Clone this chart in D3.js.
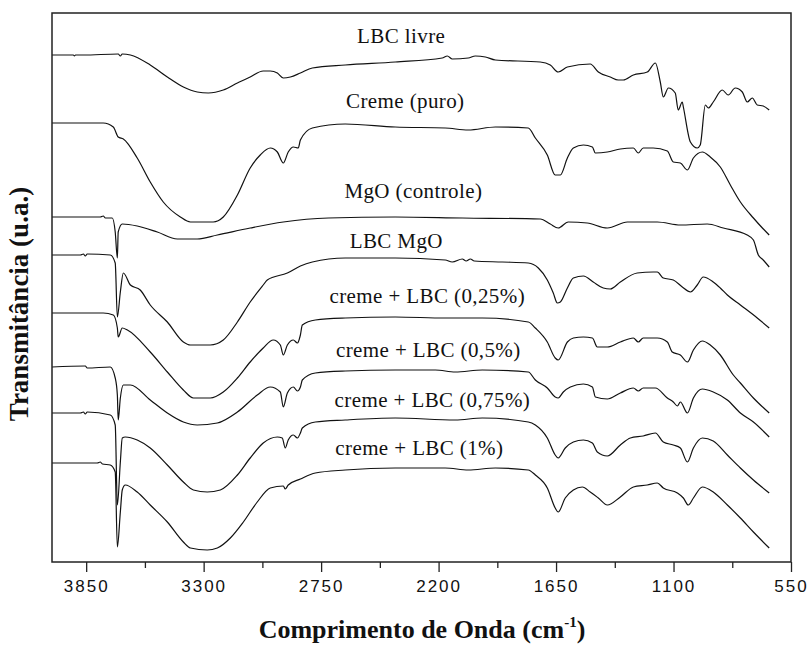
<!DOCTYPE html>
<html>
<head>
<meta charset="utf-8">
<script src="https://cdn.jsdelivr.net/npm/d3@7"></script>
<style>
  html, body { margin: 0; padding: 0; background: #fff; }
  svg { display: block; }
</style>
</head>
<body>
<svg id="chart" width="809" height="645"></svg>
<script>
// FTIR spectra, stacked with vertical offsets. Each series: [wavenumber (cm-1), transmittance (u.a.)]
const lbcLivre = [
  [4010,507],[3910,507],[3905,506],[3900,507],[3863,507],[3700,508],[3690,506],[3681,508],[3643,507],
  [3550,497],[3470,485],[3395,475],[3330,470],[3278,469],[3208,472],[3142,479],[3082,485],[3021,491],
  [2988,491],[2955,489],[2927,484],[2894,485],[2847,489],[2791,494],[2637,497],[2403,500],[2183,504],
  [2159,506],[2136,503],[2061,504],[2028,506],[1981,505],[1934,502],[1724,500],[1677,497],[1640,490],
  [1597,495],[1490,498],[1452,490],[1396,485],[1359,482],[1335,482],[1288,487],[1223,490],[1185,499],
  [1162,480],[1148,465],[1124,474],[1092,469],[1078,452],[1059,460],[1054,455],[1021,420],[989,414],
  [975,417],[951,457],[937,454],[914,460],[872,472],[844,467],[811,474],[778,470],[755,460],[731,464],
  [708,457],[680,456],[652,452]
];
const cremePuro = [
  [4010,439],[3770,439],[3723,435],[3700,425],[3676,423],[3611,404],[3550,380],[3489,360],[3409,345],
  [3362,340],[3255,340],[3208,345],[3142,367],[3082,394],[3035,407],[2988,414],[2955,410],[2927,399],
  [2904,410],[2880,415],[2857,414],[2847,422],[2791,434],[2637,438],[2403,435],[2169,434],[2061,432],
  [1934,435],[1780,434],[1747,424],[1691,407],[1654,387],[1630,387],[1597,404],[1569,414],[1522,417],
  [1480,415],[1466,409],[1410,410],[1349,413],[1288,414],[1265,409],[1242,414],[1195,414],[1129,411],
  [1101,400],[1068,399],[1035,392],[1007,404],[965,410],[928,405],[881,395],[834,377],[787,360],
  [726,344],[684,334],[652,327]
];
const mgoControle = [
  [4010,345],[3784,345],[3770,346],[3760,344],[3728,344],[3714,330],[3704,304],[3700,330],[3681,338],
  [3611,336],[3517,330],[3423,323],[3330,323],[3236,327],[3082,334],[2927,340],[2716,344],[2403,345],
  [2089,344],[1724,343],[1677,338],[1640,334],[1593,340],[1504,339],[1410,334],[1316,340],[1176,340],
  [1068,337],[942,338],[867,334],[755,327],[726,322],[703,307],[680,302],[652,295]
];
const lbcMgo = [
  [4010,307],[3877,307],[3863,308],[3854,306],[3845,308],[3737,307],[3714,299],[3704,245],[3690,270],
  [3676,289],[3643,277],[3597,272],[3550,257],[3470,240],[3395,220],[3362,217],[3269,217],[3208,222],
  [3142,240],[3082,260],[3021,277],[3002,282],[2908,289],[2847,296],[2791,300],[2637,304],[2403,304],
  [2169,302],[2136,300],[2089,303],[2071,301],[2051,303],[2033,301],[1902,300],[1780,299],[1733,294],
  [1691,282],[1663,269],[1644,259],[1630,260],[1597,274],[1569,284],[1522,286],[1476,280],[1429,274],
  [1396,273],[1349,280],[1270,289],[1195,290],[1176,290],[1148,284],[1101,282],[1059,275],[1021,270],
  [989,277],[961,285],[914,280],[881,274],[848,267],[787,257],[708,244],[652,234]
];
const creme025 = [
  [4010,249],[3770,249],[3723,247],[3704,234],[3700,225],[3681,234],[3657,232],[3550,210],[3470,190],
  [3395,172],[3348,164],[3269,164],[3208,170],[3142,184],[3082,200],[3021,214],[2974,222],[2941,217],
  [2927,207],[2908,217],[2880,222],[2861,219],[2847,227],[2838,237],[2777,242],[2637,244],[2403,245],
  [2169,244],[1995,244],[1780,240],[1747,234],[1691,220],[1654,204],[1640,202],[1597,220],[1569,224],
  [1522,225],[1480,224],[1457,215],[1410,215],[1349,220],[1288,224],[1265,220],[1242,224],[1176,224],
  [1129,220],[1106,210],[1068,207],[1035,200],[1007,212],[965,221],[928,217],[881,207],[820,187],
  [787,179],[726,164],[652,149]
];
const creme05 = [
  [4010,195],[3854,196],[3845,194],[3737,195],[3714,184],[3704,167],[3700,142],[3690,164],[3676,177],
  [3643,177],[3550,162],[3470,149],[3395,140],[3330,137],[3236,139],[3142,150],[3049,167],[2988,175],
  [2941,170],[2927,155],[2908,169],[2880,175],[2861,171],[2847,175],[2838,182],[2777,189],[2637,191],
  [2403,192],[2215,192],[2122,190],[1995,192],[1780,190],[1747,182],[1691,174],[1654,165],[1640,164],
  [1616,170],[1583,175],[1522,178],[1480,175],[1466,165],[1410,163],[1349,169],[1288,174],[1265,171],
  [1242,174],[1185,174],[1129,164],[1101,160],[1082,156],[1068,160],[1035,149],[1007,164],[965,173],
  [914,170],[848,162],[787,149],[726,140],[652,125]
];
const creme075 = [
  [4010,149],[3877,149],[3863,150],[3854,148],[3845,150],[3737,147],[3714,137],[3704,57],[3690,100],
  [3681,124],[3667,125],[3611,122],[3550,114],[3470,97],[3395,80],[3348,72],[3283,70],[3222,72],
  [3142,87],[3082,104],[3021,119],[2955,125],[2932,124],[2918,114],[2904,122],[2880,127],[2861,124],
  [2847,129],[2838,134],[2777,140],[2637,142],[2403,144],[2122,142],[1995,144],[1780,140],[1747,137],
  [1691,124],[1654,107],[1640,104],[1607,114],[1569,120],[1522,122],[1480,119],[1457,110],[1410,106],
  [1349,117],[1302,124],[1242,126],[1185,129],[1148,120],[1101,117],[1068,114],[1035,100],[1007,114],
  [965,124],[914,121],[848,107],[787,94],[726,82],[652,69]
];
const creme1 = [
  [4010,99],[3798,99],[3784,100],[3774,98],[3737,97],[3714,90],[3704,15],[3690,50],[3681,72],[3667,77],
  [3611,70],[3550,57],[3470,40],[3395,20],[3362,14],[3283,12],[3236,14],[3175,24],[3114,40],[3049,60],
  [2988,74],[2927,76],[2918,73],[2904,77],[2847,83],[2777,89],[2637,92],[2403,94],[2169,94],[2061,92],
  [1934,94],[1780,92],[1747,87],[1691,74],[1654,54],[1640,50],[1607,64],[1569,72],[1527,75],[1490,70],
  [1452,64],[1410,57],[1349,65],[1288,75],[1223,77],[1176,79],[1148,74],[1082,69],[1054,64],[1031,57],
  [1007,64],[965,75],[914,70],[848,57],[787,44],[726,30],[652,14]
];

const seriesNames = [
  "LBC livre", "Creme (puro)", "MgO (controle)", "LBC MgO",
  "creme + LBC (0,25%)", "creme + LBC (0,5%)", "creme + LBC (0,75%)", "creme + LBC (1%)"
];
const seriesValues = [lbcLivre, cremePuro, mgoControle, lbcMgo, creme025, creme05, creme075, creme1];
// label anchor for each spectrum: [wavenumber at centre, transmittance at baseline]
const labelAnchors = [
  [2375,519], [2356,454], [2318,364], [2398,314],
  [2253,259], [2248,205], [2229,155], [2290,107]
];

const xTicks = [3850, 3300, 2750, 2200, 1650, 1100, 550];
const xMinorTicks = [3575, 3025, 2475, 1925, 1375, 825];
const xDomain = [4010, 550];
const yDomain = [0, 549];

const svg = d3.select("#chart");
const W = 809, H = 645;
const m = { left: 52, top: 13, right: 18, bottom: 83 };

const x = d3.scaleLinear().domain(xDomain).range([m.left, W - m.right]);
const y = d3.scaleLinear().domain(yDomain).range([H - m.bottom, m.top]);

const plot = svg.append("g");

// spectra
const line = d3.line().x(d => x(d[0])).y(d => y(d[1])).curve(d3.curveMonotoneX);
plot.selectAll("path.spec")
  .data(seriesValues)
  .join("path")
  .attr("class", "spec")
  .attr("d", line)
  .attr("fill", "none")
  .attr("stroke", "#111")
  .attr("stroke-width", 1.2)
  .attr("stroke-linejoin", "round");

// series labels
plot.selectAll("text.lab")
  .data(seriesNames)
  .join("text")
  .attr("class", "lab")
  .attr("x", (d, i) => x(labelAnchors[i][0]))
  .attr("y", (d, i) => y(labelAnchors[i][1]))
  .attr("text-anchor", "middle")
  .attr("font-family", "'Liberation Serif', 'Times New Roman', serif")
  .attr("font-size", 21)
  .attr("letter-spacing", "0.4px")
  .attr("fill", "#111")
  .text(d => d);

// frame
svg.append("rect")
  .attr("x", m.left).attr("y", m.top)
  .attr("width", W - m.left - m.right)
  .attr("height", H - m.top - m.bottom)
  .attr("fill", "none")
  .attr("stroke", "#222")
  .attr("stroke-width", 1.5);

// bottom axis
const xAxis = d3.axisBottom(x).tickValues(xTicks).tickSize(10).tickPadding(8).tickFormat(d3.format("d"));
const gx = svg.append("g").attr("transform", `translate(0,${H - m.bottom})`).call(xAxis);
gx.select(".domain").remove();
gx.selectAll(".tick line").attr("stroke", "#222").attr("stroke-width", 1.3);
gx.selectAll(".tick text")
  .attr("font-family", "'Liberation Sans', Arial, sans-serif")
  .attr("font-size", 17)
  .attr("letter-spacing", "2px")
  .attr("fill", "#111");

const xMinor = d3.axisBottom(x).tickValues(xMinorTicks).tickSize(6).tickFormat("");
const gxm = svg.append("g").attr("transform", `translate(0,${H - m.bottom})`).call(xMinor);
gxm.select(".domain").remove();
gxm.selectAll(".tick line").attr("stroke", "#222").attr("stroke-width", 1.3);

// axis titles
const xt = svg.append("text")
  .attr("x", 422).attr("y", 638)
  .attr("text-anchor", "middle")
  .attr("font-family", "'Liberation Serif', 'Times New Roman', serif")
  .attr("font-weight", "bold")
  .attr("font-size", 26)
  .attr("fill", "#111");
xt.append("tspan").text("Comprimento de Onda (cm");
xt.append("tspan").attr("dy", -11).attr("font-size", 15).text("-1");
xt.append("tspan").attr("dy", 11).text(")");

svg.append("text")
  .attr("transform", "translate(28,304) rotate(-90)")
  .attr("text-anchor", "middle")
  .attr("font-family", "'Liberation Serif', 'Times New Roman', serif")
  .attr("font-weight", "bold")
  .attr("font-size", 27)
  .attr("fill", "#111")
  .text("Transmitância (u.a.)");
</script>
</body>
</html>
